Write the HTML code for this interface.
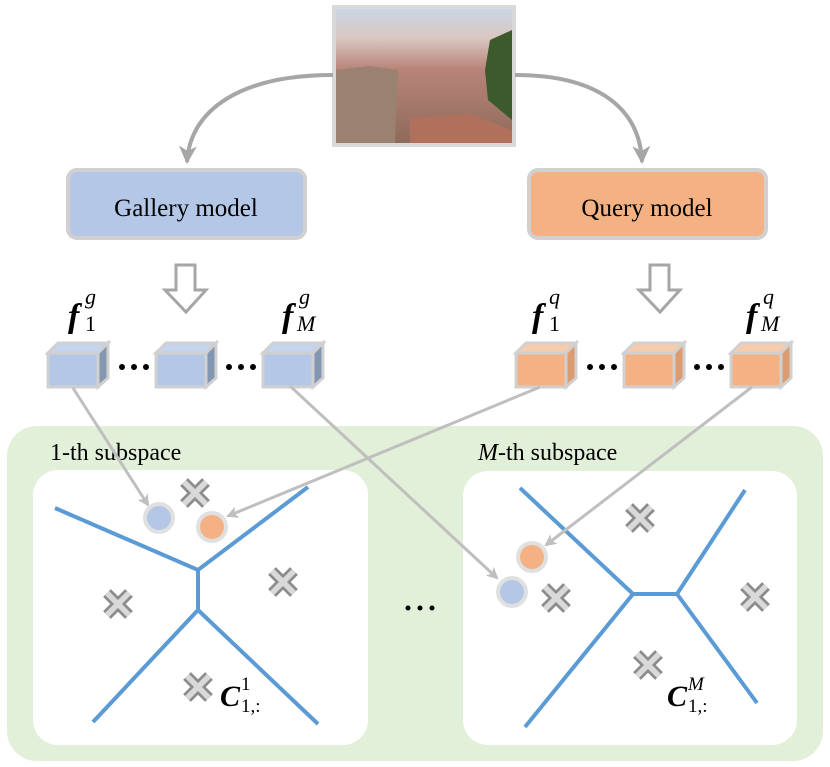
<!DOCTYPE html>
<html><head><meta charset="utf-8"><style>
html,body{margin:0;padding:0;background:#fff;width:830px;height:767px;overflow:hidden}
svg{display:block}
text{font-family:"Liberation Serif",serif}
</style></head><body>
<svg width="830" height="767" viewBox="0 0 830 767" xmlns="http://www.w3.org/2000/svg">
<defs>
<marker id="ah" markerWidth="12" markerHeight="12" refX="10" refY="6" orient="auto" markerUnits="userSpaceOnUse">
<path d="M0,0 L12,6 L0,12 L3,6 Z" fill="#bfbfbf"/></marker>
<marker id="ah2" markerWidth="22" markerHeight="22" refX="16" refY="11" orient="auto" markerUnits="userSpaceOnUse">
<path d="M0,2 L18,11 L0,20 L5,11 Z" fill="#a6a6a6"/></marker>
<linearGradient id="sky" x1="0" y1="0" x2="0" y2="1">
<stop offset="0" stop-color="#c9d6e6"/><stop offset="0.22" stop-color="#d9c8c2"/><stop offset="0.45" stop-color="#b9847a"/><stop offset="1" stop-color="#8c6a5a"/></linearGradient>
<g id="xm"><path d="M-11,-11 L11,11 M11,-11 L-11,11" stroke="#8c8c8c" stroke-width="11"/><path d="M-11,-11 L11,11 M11,-11 L-11,11" stroke="#d9d9d9" stroke-width="5.5"/></g>
</defs>

<!-- photo -->
<rect x="334" y="7" width="180" height="138" fill="url(#sky)" stroke="#d9d9d9" stroke-width="4"/>
<path d="M336,70 L370,66 L398,70 L395,143 L336,143 Z" fill="#9b8170"/>
<path d="M410,118 L470,114 L512,130 L512,143 L410,143Z" fill="#b0705c"/>
<path d="M490,40 L512,30 L512,120 L488,100 L485,70Z" fill="#3d5a2c"/>

<!-- curved arrows -->
<path d="M333,75 C240,75 190,110 187,162" fill="none" stroke="#a6a6a6" stroke-width="4" marker-end="url(#ah2)"/>
<path d="M515,75 C600,75 640,110 642,162" fill="none" stroke="#a6a6a6" stroke-width="4" marker-end="url(#ah2)"/>

<!-- model boxes -->
<rect x="68" y="170" width="237" height="68" rx="9" fill="#b4c7e7" stroke="#d0d0d0" stroke-width="4"/>
<text x="186" y="216" font-size="25" text-anchor="middle">Gallery model</text>
<rect x="529" y="170" width="237" height="68" rx="9" fill="#f4b183" stroke="#d0d0d0" stroke-width="4"/>
<text x="647" y="216" font-size="25" text-anchor="middle">Query model</text>

<!-- hollow arrows -->
<path d="M176,265 L195,265 L195,290 L206,290 L186,312 L165,290 L176,290 Z" fill="#fff" stroke="#a6a6a6" stroke-width="3"/>
<path d="M650,265 L669,265 L669,290 L680,290 L660,312 L639,290 L650,290 Z" fill="#fff" stroke="#a6a6a6" stroke-width="3"/>

<!-- f labels -->
<g font-family="Liberation Serif,serif" font-weight="bold" font-style="italic">
<text x="68" y="327" font-size="34">f</text><text x="85" y="304" font-size="22" font-weight="normal">g</text><text x="85" y="331" font-size="22" font-weight="normal" font-style="normal">1</text>
<text x="282" y="327" font-size="34">f</text><text x="299" y="304" font-size="22" font-weight="normal">g</text><text x="297" y="331" font-size="22" font-weight="normal">M</text>
<text x="532" y="327" font-size="34">f</text><text x="549" y="304" font-size="22" font-weight="normal">q</text><text x="549" y="331" font-size="22" font-weight="normal" font-style="normal">1</text>
<text x="746" y="327" font-size="34">f</text><text x="763" y="304" font-size="22" font-weight="normal">q</text><text x="761" y="331" font-size="22" font-weight="normal">M</text>
</g>

<!-- cubes -->
<g stroke="#d0d0d0" stroke-width="3">
<g id="cb"><path d="M48,353 L58,343 L108,343 L98,353Z" fill="#c5d5ee"/><path d="M98,353 L108,343 L108,378 L98,387Z" fill="#8497b0"/><rect x="48" y="353" width="50" height="34" fill="#b4c7e7"/></g>
<use href="#cb" x="108"/><use href="#cb" x="215"/>
<g id="co"><path d="M516,353 L526,343 L576,343 L566,353Z" fill="#f8cbad"/><path d="M566,353 L576,343 L576,378 L566,387Z" fill="#c55a11" fill-opacity="0.6"/><rect x="516" y="353" width="50" height="34" fill="#f4b183"/></g>
<use href="#co" x="108"/><use href="#co" x="215"/>
</g>
<g fill="#000">
<circle cx="122" cy="367" r="3"/><circle cx="134" cy="367" r="3"/><circle cx="146" cy="367" r="3"/>
<circle cx="229" cy="367" r="3"/><circle cx="241" cy="367" r="3"/><circle cx="253" cy="367" r="3"/>
<circle cx="590" cy="367" r="3"/><circle cx="602" cy="367" r="3"/><circle cx="614" cy="367" r="3"/>
<circle cx="697" cy="367" r="3"/><circle cx="709" cy="367" r="3"/><circle cx="721" cy="367" r="3"/>
</g>

<!-- green area -->
<rect x="7" y="426" width="816" height="335" rx="30" fill="#e2efd9"/>
<text x="50" y="460" font-size="24">1-th subspace</text>
<text x="478" y="460" font-size="24"><tspan font-style="italic">M</tspan>-th subspace</text>
<rect x="33" y="470" width="335" height="275" rx="25" fill="#fff"/>
<rect x="463" y="471" width="334" height="274" rx="25" fill="#fff"/>

<!-- voronoi lines -->
<g stroke="#5b9bd5" stroke-width="4" fill="none">
<path d="M55,508 L198,570 L308,487 M198,570 L198,610 M93,722 L198,610 L318,724"/>
<path d="M520,488 L633,594 L677,594 L745,490 M525,727 L633,594 M677,594 L757,703"/>
</g>

<!-- crosses -->
<use href="#xm" x="195" y="493"/><use href="#xm" x="283" y="582"/><use href="#xm" x="118" y="604"/><use href="#xm" x="198" y="687"/>
<use href="#xm" x="640" y="518"/><use href="#xm" x="556" y="598"/><use href="#xm" x="755" y="597"/><use href="#xm" x="648" y="665"/>

<g fill="#000"><circle cx="408" cy="608" r="2.5"/><circle cx="420" cy="608" r="2.5"/><circle cx="432" cy="608" r="2.5"/></g>

<!-- connectors -->
<g stroke="#bfbfbf" stroke-width="3" fill="none">
<path d="M73,388 L148,505" marker-end="url(#ah)"/>
<path d="M290,386 L497,578" marker-end="url(#ah)"/>
<path d="M540,387 L228,516" marker-end="url(#ah)"/>
<path d="M752,387 L546,545" marker-end="url(#ah)"/>
</g>

<!-- circles -->
<circle cx="159" cy="518" r="14" fill="#b4c7e7" stroke="#e0e0e0" stroke-width="4"/>
<circle cx="212" cy="527" r="14" fill="#f4b183" stroke="#e0e0e0" stroke-width="4"/>
<circle cx="532" cy="557" r="14" fill="#f4b183" stroke="#e0e0e0" stroke-width="4"/>
<circle cx="512" cy="592" r="14" fill="#b4c7e7" stroke="#e0e0e0" stroke-width="4"/>

<!-- C labels -->
<g font-weight="bold" font-style="italic">
<text x="220" y="706" font-size="30">C</text><text x="241" y="690" font-size="19" font-weight="normal" font-style="normal">1</text><text x="241" y="712" font-size="19" font-weight="normal" font-style="normal">1,:</text>
<text x="667" y="706" font-size="30">C</text><text x="688" y="690" font-size="19" font-weight="normal">M</text><text x="688" y="712" font-size="19" font-weight="normal" font-style="normal">1,:</text>
</g>
</svg>
</body></html>
